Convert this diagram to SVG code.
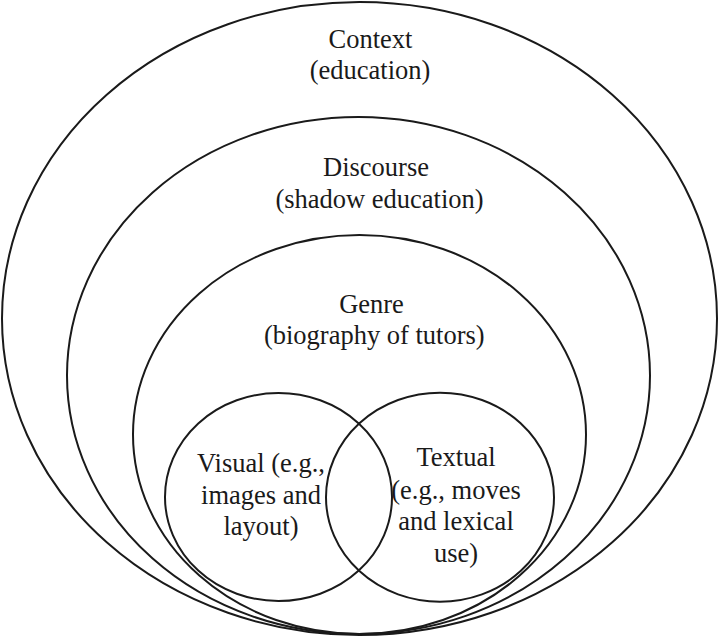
<svg xmlns="http://www.w3.org/2000/svg" width="720" height="637" viewBox="0 0 720 637">
<style>
.e{fill:none;stroke:#1a1a1a;stroke-width:2}
.t{font-family:"Liberation Serif","Times New Roman",serif;font-size:26.5px;fill:#1a1a1a;text-anchor:middle}
</style>
<rect width="720" height="637" fill="#ffffff"/>
<g id="context">
<ellipse class="e" cx="359.5" cy="318.5" rx="357.5" ry="316.5"/>
<text class="t" x="370.5" y="48">Context</text>
<text class="t" x="370" y="79">(education)</text>
</g>
<g id="discourse">
<ellipse class="e" cx="358.5" cy="375.5" rx="291.5" ry="258.5"/>
<text class="t" x="376" y="176">Discourse</text>
<text class="t" x="379.5" y="207.5">(shadow education)</text>
</g>
<g id="genre">
<ellipse class="e" cx="359.5" cy="434.5" rx="226.5" ry="199.5"/>
<text class="t" x="371.5" y="312.5">Genre</text>
<text class="t" x="374.3" y="344">(biography of tutors)</text>
</g>
<g id="visual">
<ellipse class="e" cx="278.5" cy="497" rx="113.5" ry="104"/>
<text class="t" x="261" y="472">Visual (e.g.,</text>
<text class="t" x="261" y="503.5">images and</text>
<text class="t" x="261" y="535">layout)</text>
</g>
<g id="textual">
<ellipse class="e" cx="440" cy="497.2" rx="114" ry="104.5"/>
<text class="t" x="456" y="466">Textual</text>
<text class="t" x="456" y="498.5">(e.g., moves</text>
<text class="t" x="456" y="529.5">and lexical</text>
<text class="t" x="456" y="561.5">use)</text>
</g>
<g id="connectors"></g>
</svg>
